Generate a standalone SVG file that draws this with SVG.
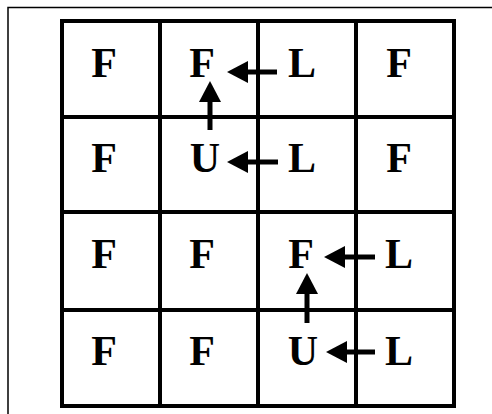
<svg xmlns="http://www.w3.org/2000/svg" width="492" height="414" viewBox="0 0 492 414">
<style>
.cell{fill:none;stroke:#000;stroke-width:4}
.t{font-family:"Liberation Serif","Times New Roman",serif;font-weight:bold;font-size:42px;fill:#000;text-anchor:middle}
.c{stroke:#000;stroke-width:5;fill:none}
</style>
<defs>
<marker id="ah" markerUnits="userSpaceOnUse" markerWidth="22" markerHeight="22" refX="0" refY="11" orient="auto" viewBox="0 0 22 22">
<path d="M0,0 L21,11 L0,22 z" fill="#000"/>
</marker>
</defs>
<rect width="492" height="414" fill="#fff"/>
<path d="M8,414 V7.5 H492" fill="none" stroke="#000" stroke-width="1.5"/>
<g id="r1c1"><rect class="cell" x="62" y="21" width="98" height="96"/><text class="t" x="104" y="76.5">F</text></g>
<g id="r1c2"><rect class="cell" x="160" y="21" width="98" height="96"/><text class="t" x="202" y="76.5">F</text></g>
<g id="r1c3"><rect class="cell" x="258" y="21" width="98" height="96"/><text class="t" x="302" y="76.5">L</text></g>
<g id="r1c4"><rect class="cell" x="356" y="21" width="98" height="96"/><text class="t" x="399" y="76.5">F</text></g>
<g id="r2c1"><rect class="cell" x="62" y="117" width="98" height="95"/><text class="t" x="104" y="172">F</text></g>
<g id="r2c2"><rect class="cell" x="160" y="117" width="98" height="95"/><text class="t" x="205" y="172">U</text></g>
<g id="r2c3"><rect class="cell" x="258" y="117" width="98" height="95"/><text class="t" x="302" y="172">L</text></g>
<g id="r2c4"><rect class="cell" x="356" y="117" width="98" height="95"/><text class="t" x="399" y="172">F</text></g>
<g id="r3c1"><rect class="cell" x="62" y="212" width="98" height="98"/><text class="t" x="104" y="268">F</text></g>
<g id="r3c2"><rect class="cell" x="160" y="212" width="98" height="98"/><text class="t" x="202" y="268">F</text></g>
<g id="r3c3"><rect class="cell" x="258" y="212" width="98" height="98"/><text class="t" x="301" y="268">F</text></g>
<g id="r3c4"><rect class="cell" x="356" y="212" width="98" height="98"/><text class="t" x="399" y="268">L</text></g>
<g id="r4c1"><rect class="cell" x="62" y="310" width="98" height="96"/><text class="t" x="104" y="365">F</text></g>
<g id="r4c2"><rect class="cell" x="160" y="310" width="98" height="96"/><text class="t" x="202" y="365">F</text></g>
<g id="r4c3"><rect class="cell" x="258" y="310" width="98" height="96"/><text class="t" x="303" y="365">U</text></g>
<g id="r4c4"><rect class="cell" x="356" y="310" width="98" height="96"/><text class="t" x="399" y="365">L</text></g>
<g id="connectors">
<line class="c" x1="277" y1="72" x2="248" y2="72" marker-end="url(#ah)"/>
<line class="c" x1="210" y1="130" x2="210" y2="102" marker-end="url(#ah)"/>
<line class="c" x1="278" y1="162" x2="248" y2="162" marker-end="url(#ah)"/>
<line class="c" x1="375" y1="257" x2="345" y2="257" marker-end="url(#ah)"/>
<line class="c" x1="307" y1="323" x2="307" y2="294" marker-end="url(#ah)"/>
<line class="c" x1="375" y1="352" x2="347" y2="352" marker-end="url(#ah)"/>
</g>
</svg>
